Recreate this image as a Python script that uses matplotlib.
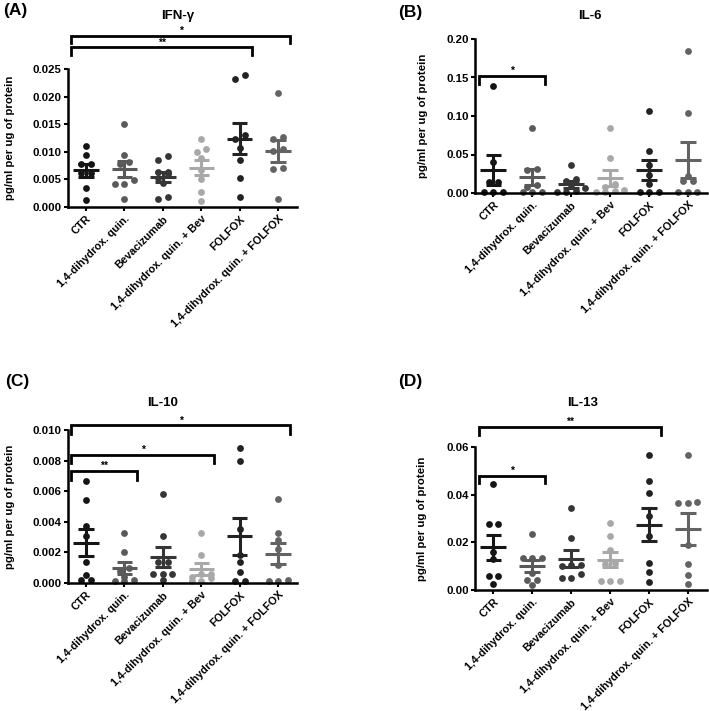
import numpy as np
import matplotlib.pyplot as plt
from matplotlib.ticker import FormatStrFormatter

plt.rcParams['font.family'] = ['Liberation Sans', 'DejaVu Sans']
plt.rcParams['font.weight'] = 'bold'

# groups on the x axis
groups = ['CTR', '1,4-dihydrox. quin.', 'Bevacizumab',
          '1,4-dihydrox. quin. + Bev', 'FOLFOX', '1,4-dihydrox. quin. + FOLFOX']
group_colors = ['#151515', '#5a5a5a', '#363636', '#a8a8a8', '#222222', '#636363']

# values (pg/ml per ug of protein)
ifn_gamma = [
    [0.0110, 0.0095, 0.0078, 0.0078, 0.0061, 0.0061, 0.0034, 0.0012],
    [0.0150, 0.0094, 0.0082, 0.0078, 0.0049, 0.0042, 0.0042, 0.0014],
    [0.0092, 0.0086, 0.0064, 0.0064, 0.0060, 0.0052, 0.0043, 0.0018, 0.0014],
    [0.0123, 0.0105, 0.0099, 0.0089, 0.0067, 0.0050, 0.0027, 0.0010],
    [0.0239, 0.0232, 0.0130, 0.0124, 0.0107, 0.0086, 0.0053, 0.0018],
    [0.0206, 0.0126, 0.0123, 0.0105, 0.0101, 0.0071, 0.0068, 0.0014],
]
il6 = [
    [0.139, 0.040, 0.0137, 0.0137, 0.001, 0.001, 0.001],
    [0.085, 0.031, 0.030, 0.011, 0.008, 0.001, 0.001, 0.001],
    [0.036, 0.018, 0.016, 0.010, 0.006, 0.002, 0.001, 0.001],
    [0.085, 0.045, 0.012, 0.008, 0.004, 0.002, 0.001, 0.001],
    [0.1066, 0.054, 0.037, 0.024, 0.012, 0.001, 0.001, 0.001],
    [0.185, 0.104, 0.0215, 0.015, 0.015, 0.001, 0.001, 0.001],
]
il10 = [
    [0.00665, 0.00545, 0.0037, 0.0031, 0.00135, 0.0005, 0.0002, 0.0002],
    [0.0033, 0.0020, 0.0010, 0.0008, 0.0004, 0.0002, 0.0001, 0.0001],
    [0.0058, 0.0031, 0.0014, 0.0014, 0.0006, 0.0006, 0.0006, 0.0002],
    [0.0033, 0.0018, 0.0006, 0.0006, 0.0004, 0.0003, 0.0001, 0.0001],
    [0.0088, 0.0080, 0.0035, 0.0018, 0.00135, 0.0007, 0.0001, 0.0001],
    [0.0055, 0.0033, 0.0028, 0.0022, 0.0012, 0.0002, 0.0001, 0.0001],
]
il13 = [
    [0.0446, 0.0277, 0.0277, 0.0160, 0.0130, 0.0057, 0.0057, 0.0025],
    [0.0236, 0.0134, 0.0134, 0.0134, 0.0071, 0.0041, 0.0041, 0.0019],
    [0.0344, 0.0218, 0.0104, 0.0104, 0.0100, 0.0068, 0.0052, 0.0052],
    [0.0283, 0.0228, 0.0169, 0.0113, 0.0110, 0.0039, 0.0039, 0.0039],
    [0.0567, 0.0458, 0.0409, 0.0312, 0.0228, 0.0113, 0.0075, 0.0034],
    [0.0566, 0.0370, 0.0365, 0.0365, 0.0190, 0.0110, 0.0061, 0.0026],
]

# significance brackets: (group from, group to, stars, height)
ifn_brackets = [(0, 5, '*', 0.0310), (0, 4, '**', 0.0289)]
il6_brackets = [(0, 1, '*', 0.152)]
il10_brackets = [(0, 5, '*', 0.0103), (0, 3, '*', 0.00838), (0, 1, '**', 0.0073)]
il13_brackets = [(0, 4, '**', 0.0683), (0, 1, '*', 0.048)]

W, H = 709, 711
fig = plt.figure(figsize=(W / 100, H / 100), dpi=100)


def px_axes(left, right, top, bottom):
    return fig.add_axes([left / W, 1 - bottom / H, (right - left) / W, (bottom - top) / H])


def swarm_offsets(ax, vals, gap=4.5, step=9.5):
    # group points that sit on nearly the same height into rows, spread rows sideways
    ypx = ax.transData.transform(np.column_stack([np.zeros(len(vals)), vals]))[:, 1]
    xscale = ax.transData.transform((1, 0))[0] - ax.transData.transform((0, 0))[0]
    order = np.argsort(ypx)
    offs = np.zeros(len(vals))
    rows = []
    for k in order:
        if rows and ypx[k] - ypx[rows[-1][0]] < gap:
            rows[-1].append(k)
        else:
            rows.append([k])
    for row in rows:
        n = len(row)
        for m, k in enumerate(row):
            offs[k] = (m - (n - 1) / 2) * step / xscale
    return offs


def draw_panel(ax, data, brackets, ytop, yticks, fmt, title, letter, title_xy, letter_xy, ylab_x):
    ax.set_xlim(-0.47, 5.49)
    ax.set_ylim(0, ytop)
    for sp in ['top', 'right']:
        ax.spines[sp].set_visible(False)
    for sp in ['left', 'bottom']:
        ax.spines[sp].set_linewidth(1.8)
    ax.set_yticks(yticks)
    ax.yaxis.set_major_formatter(FormatStrFormatter(fmt))
    ax.set_xticks(range(len(groups)))
    ax.set_xticklabels(groups, rotation=45, ha='right', rotation_mode='anchor',
                       fontsize=7.8, fontweight='bold')
    ax.tick_params(axis='y', labelsize=8.2, width=1.5, length=3, pad=1.5)
    ax.tick_params(axis='x', width=1.5, length=3, pad=2)
    for lab in ax.get_yticklabels():
        lab.set_fontweight('bold')

    for i, vals in enumerate(data):
        vals = np.array(vals)
        c = group_colors[i]
        xo = swarm_offsets(ax, vals)
        ax.scatter(i + xo, vals, s=24, color=c, zorder=2, clip_on=False, linewidths=0)
        m = vals.mean()
        se = vals.std(ddof=1) / np.sqrt(len(vals))
        ax.hlines(m, i - 0.33, i + 0.33, color=c, lw=2.2, zorder=3)
        ax.hlines([m - se, m + se], i - 0.2, i + 0.2, color=c, lw=2.2, zorder=3)
        ax.vlines(i, m - se, m + se, color=c, lw=2.2, zorder=3)

    drop = ytop * 0.055
    for a, b, stars, h in brackets:
        xl, xr = a - 0.38, b + 0.32
        ax.plot([xl, xl, xr, xr], [h - drop, h, h, h - drop], color='black', lw=2,
                clip_on=False, solid_joinstyle='miter')
        ax.text((xl + xr) / 2, h, stars, ha='center', va='bottom', fontsize=7.5,
                fontweight='bold')

    fig.text(title_xy[0] / W, 1 - title_xy[1] / H, title, ha='center', va='center',
             fontsize=9.5, fontweight='bold')
    fig.text(letter_xy[0] / W, 1 - letter_xy[1] / H, letter, ha='left', va='center',
             fontsize=12.5, fontweight='bold')
    ax.set_ylabel('pg/ml per ug of protein', fontsize=8.2, fontweight='bold')
    ax.yaxis.set_label_coords((ylab_x - ax.get_position().x0 * W) / ax.get_position().width / W, 0.5)


ax_a = px_axes(68, 297, 69, 207)
draw_panel(ax_a, ifn_gamma, ifn_brackets, 0.025, np.arange(0, 0.0251, 0.005), '%.3f',
           'IFN-\u03b3', '(A)', (178, 16), (3, 11), 15)

ax_b = px_axes(475, 707, 39, 193)
draw_panel(ax_b, il6, il6_brackets, 0.20, np.arange(0, 0.201, 0.05), '%.2f',
           'IL-6', '(B)', (590, 16), (398, 12), 428)

ax_c = px_axes(68, 297, 430, 583)
draw_panel(ax_c, il10, il10_brackets, 0.010, np.arange(0, 0.0101, 0.002), '%.3f',
           'IL-10', '(C)', (163, 403), (5, 382), 15)

ax_d = px_axes(475, 707, 447, 590)
draw_panel(ax_d, il13, il13_brackets, 0.06, np.arange(0, 0.061, 0.02), '%.2f',
           'IL-13', '(D)', (583, 403), (398, 382), 427)

fig.savefig('out.png', dpi=100)
